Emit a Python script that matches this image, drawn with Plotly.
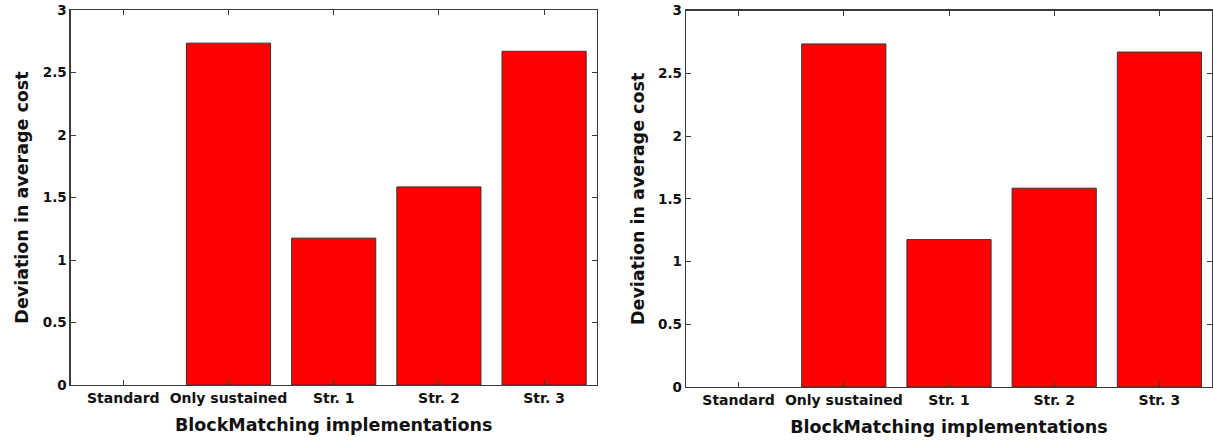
import plotly.graph_objects as go

categories = ["Standard", "Only sustained", "Str. 1", "Str. 2", "Str. 3"]
values_left = [0.0, 2.735, 1.175, 1.585, 2.67]
values_right = [0.0, 2.735, 1.175, 1.585, 2.67]
y_ticks = [0, 0.5, 1, 1.5, 2, 2.5, 3]

x_title = "BlockMatching implementations"
y_title = "Deviation in average cost"

FONT = "DejaVu Sans, Liberation Sans, Arial, sans-serif"
FRAME = "#3a3a3a"

outline_widths = [0 if v == 0 else 1 for v in values_left]

fig = go.Figure()
fig.add_trace(go.Bar(x=categories, y=values_left, xaxis="x", yaxis="y",
                     marker=dict(color="#ff0000", line=dict(color="#333333", width=outline_widths)),
                     showlegend=False, hoverinfo="skip"))
fig.add_trace(go.Bar(x=categories, y=values_right, xaxis="x2", yaxis="y2",
                     marker=dict(color="#ff0000", line=dict(color="#333333", width=outline_widths)),
                     showlegend=False, hoverinfo="skip"))

def xax(domain, anchor):
    return dict(domain=domain, anchor=anchor, showline=True, linecolor=FRAME, linewidth=1.3,
                mirror="allticks", ticks="inside", ticklen=5, tickcolor=FRAME,
                showgrid=False, zeroline=False, automargin=False,
                tickfont=dict(family=FONT, size=14, color="#111111", weight="bold"),
                title=dict(text=x_title, standoff=13,
                           font=dict(family=FONT, size=17.5, color="#111111", weight="bold")),
                range=[-0.5, 4.5], fixedrange=True)

def yax(domain, anchor):
    return dict(domain=domain, anchor=anchor, showline=True, linecolor=FRAME, linewidth=1.3,
                mirror="allticks", ticks="inside", ticklen=5, tickcolor=FRAME,
                showgrid=False, zeroline=False, automargin=False, range=[0, 3], tickvals=y_ticks,
                tickfont=dict(family=FONT, size=13.5, color="#111111", weight="bold"),
                title=dict(text=y_title, standoff=9,
                           font=dict(family=FONT, size=17.5, color="#111111", weight="bold")),
                fixedrange=True)

fig.update_layout(
    width=1213, height=440,
    margin=dict(l=0, r=0, t=0, b=0, autoexpand=False),
    paper_bgcolor="white", plot_bgcolor="white",
    bargap=0.2,
    font=dict(family=FONT, color="#111111"),
    xaxis=xax([70.7 / 1213, 596.7 / 1213], "y"),
    yaxis=yax([1 - 385 / 440, 1 - 10 / 440], "x"),
    xaxis2=xax([686 / 1213, 1212 / 1213], "y2"),
    yaxis2=yax([1 - 387 / 440, 1 - 10.7 / 440], "x2"),
)

fig.write_html("out.html", config={"displayModeBar": False, "staticPlot": True},
               post_script="document.body.style.margin='0px';")
